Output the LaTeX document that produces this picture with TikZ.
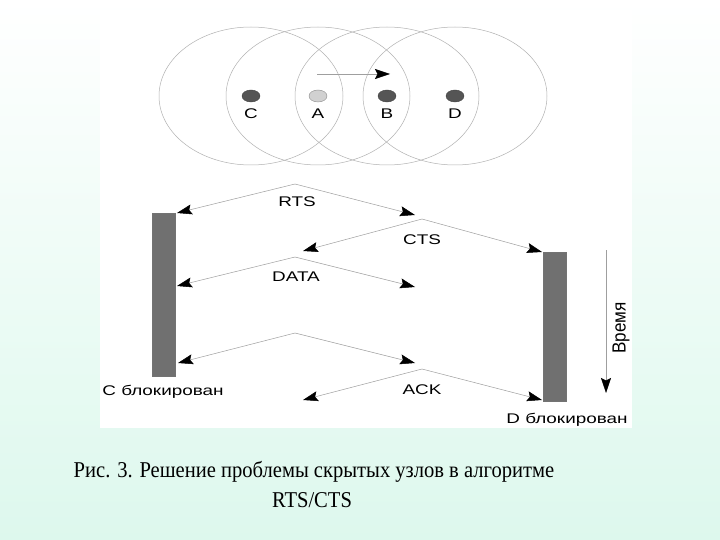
\documentclass[tikz,border=0pt]{standalone}
\usepackage{fontspec}
\setmainfont[FakeStretch=0.91]{Liberation Serif}
\newfontfamily\labelfont[FakeStretch=1.35]{Liberation Sans}
\newfontfamily\axisfont[FakeStretch=0.9]{Liberation Sans}
\usetikzlibrary{arrows.meta,shapes.geometric}
\definecolor{mint}{RGB}{221,248,237}
\definecolor{bargray}{RGB}{112,112,112}
\definecolor{dotgray}{RGB}{85,85,85}

\begin{document}
\begin{tikzpicture}[x=1pt,y=-1pt,
  reachring/.style={draw=gray!60,line width=0.5pt},
  stationdot/.style={ellipse,fill=dotgray,draw=dotgray!80!black,minimum width=18pt,minimum height=12pt,inner sep=0pt},
  labeltext/.style={font=\labelfont\fontsize{14}{16}\selectfont,inner sep=0pt},
  busybar/.style={draw=black!55,fill=bargray,minimum width=23pt,inner sep=0pt},
  msgarrow/.style={draw=gray!75,line width=0.5pt,-{Stealth[black,length=15pt,width=10pt,inset=2.5pt]}}]
\useasboundingbox (0,0) rectangle (720,540);
\shade[top color=white,bottom color=mint] (0,0) rectangle (720,540);
\fill[white] (100,10) rectangle (632,428);

\node[stationdot] (C) at (251,96) {};
\node[stationdot,fill=black!18,draw=black!45] (A) at (318,96) {};
\node[stationdot] (B) at (387,96) {};
\node[stationdot] (D) at (455,96) {};
\foreach \s in {C,A,B,D}
  \draw[reachring] (\s) ellipse [x radius=92pt,y radius=69pt];
\node[labeltext] (Clabel) at (251,114) {C};
\node[labeltext] (Alabel) at (318,114) {A};
\node[labeltext] (Blabel) at (387,114) {B};
\node[labeltext] (Dlabel) at (455,114) {D};
\coordinate (moveStart) at (317,74);
\coordinate (moveEnd) at (390,74);
\draw[msgarrow] (moveStart) -- (moveEnd);

\node[busybar,minimum height=163pt] (cbar) at (163.5,294.5) {};
\node[busybar,minimum height=149pt] (dbar) at (554.5,326.5) {};
\node[labeltext] (cblock) at (163,392) {C блокирован};
\node[labeltext] (dblock) at (567,420) {D блокирован};

\coordinate (rts) at (295,184);
\coordinate (cts) at (422,219);
\coordinate (data) at (295,257);
\coordinate (ackA) at (295,333);
\coordinate (ack) at (422,369);
\coordinate (c1) at (177,213);
\coordinate (c2) at (177,286);
\coordinate (c3) at (178,363);
\coordinate (m1) at (303,251);
\coordinate (m2) at (303,400);
\coordinate (b1) at (415,215);
\coordinate (b2) at (415,287);
\coordinate (b3) at (415,363);
\coordinate (d1) at (542,252);
\coordinate (d2) at (542,400);
\draw[msgarrow] (rts) -- (c1);
\draw[msgarrow] (rts) -- (b1);
\draw[msgarrow] (cts) -- (m1);
\draw[msgarrow] (cts) -- (d1);
\draw[msgarrow] (data) -- (c2);
\draw[msgarrow] (data) -- (b2);
\draw[msgarrow] (ackA) -- (c3);
\draw[msgarrow] (ackA) -- (b3);
\draw[msgarrow] (ack) -- (m2);
\draw[msgarrow] (ack) -- (d2);
\node[labeltext] (rtslabel) at (297,202) {RTS};
\node[labeltext] (ctslabel) at (422,240) {CTS};
\node[labeltext] (datalabel) at (296,277) {DATA};
\node[labeltext] (acklabel) at (422,390) {ACK};

\coordinate (timeStart) at (606,250);
\coordinate (timeEnd) at (606,393);
\draw[msgarrow] (timeStart) -- (timeEnd);
\node[font=\axisfont\fontsize{19}{21}\selectfont,rotate=90,inner sep=0pt] (time) at (621,328) {Время};

\node[font=\fontsize{22.6}{26}\selectfont,inner sep=0pt,anchor=base] (caption1) at (314,477) {Рис. 3. Решение проблемы скрытых узлов в алгоритме};
\node[font=\fontsize{22.6}{26}\selectfont,inner sep=0pt,anchor=base] (caption2) at (312,507) {RTS/CTS};
\end{tikzpicture}
\end{document}
